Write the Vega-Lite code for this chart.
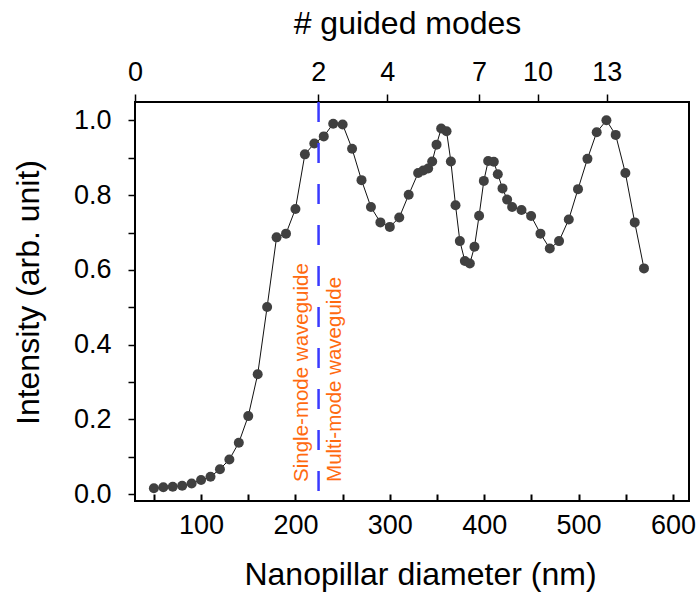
{
  "$schema": "https://vega.github.io/schema/vega-lite/v6.json",
  "width": 554,
  "height": 399,
  "autosize": {"type": "none"},
  "padding": {"left": 135, "top": 102, "right": 8, "bottom": 95},
  "config": {
    "view": {"stroke": "black", "strokeWidth": 2},
    "font": "Liberation Sans",
    "axis": {"grid": false, "domain": false, "labelFont": "Liberation Sans", "titleFont": "Liberation Sans", "labelColor": "black", "titleColor": "black", "tickColor": "black", "titleFontWeight": "normal", "labelFontWeight": "normal", "tickWidth": 1.5}
  },
  "datasets": {
    "series": [
      {"nm": 50, "v": 0.016}, {"nm": 60, "v": 0.019}, {"nm": 70, "v": 0.020}, {"nm": 80, "v": 0.023},
      {"nm": 90, "v": 0.029}, {"nm": 100, "v": 0.038}, {"nm": 110, "v": 0.047}, {"nm": 120, "v": 0.067},
      {"nm": 130, "v": 0.093}, {"nm": 140, "v": 0.138}, {"nm": 150, "v": 0.209}, {"nm": 160, "v": 0.321},
      {"nm": 170, "v": 0.501}, {"nm": 180, "v": 0.687}, {"nm": 190, "v": 0.697}, {"nm": 200, "v": 0.763},
      {"nm": 210, "v": 0.909}, {"nm": 220, "v": 0.938}, {"nm": 230, "v": 0.957}, {"nm": 240, "v": 0.991},
      {"nm": 250, "v": 0.989}, {"nm": 260, "v": 0.924}, {"nm": 270, "v": 0.840}, {"nm": 280, "v": 0.768},
      {"nm": 290, "v": 0.727}, {"nm": 300, "v": 0.715}, {"nm": 310, "v": 0.740}, {"nm": 320, "v": 0.801},
      {"nm": 330, "v": 0.859}, {"nm": 335.4, "v": 0.866}, {"nm": 340.6, "v": 0.871}, {"nm": 344.9, "v": 0.890},
      {"nm": 349.5, "v": 0.935}, {"nm": 354.4, "v": 0.978}, {"nm": 360.1, "v": 0.971}, {"nm": 364.7, "v": 0.890},
      {"nm": 369.6, "v": 0.773}, {"nm": 374.2, "v": 0.677}, {"nm": 379.5, "v": 0.624}, {"nm": 384.8, "v": 0.617},
      {"nm": 389.7, "v": 0.662}, {"nm": 394.6, "v": 0.745}, {"nm": 399.6, "v": 0.838}, {"nm": 404.2, "v": 0.891},
      {"nm": 410.2, "v": 0.889}, {"nm": 414.4, "v": 0.856}, {"nm": 419.4, "v": 0.818}, {"nm": 424.3, "v": 0.788},
      {"nm": 429.6, "v": 0.768}, {"nm": 439.5, "v": 0.760}, {"nm": 449.7, "v": 0.744}, {"nm": 459.6, "v": 0.697},
      {"nm": 469.5, "v": 0.657}, {"nm": 479.3, "v": 0.677}, {"nm": 489.6, "v": 0.735}, {"nm": 499.4, "v": 0.816},
      {"nm": 509.4, "v": 0.897}, {"nm": 519.2, "v": 0.968}, {"nm": 529.5, "v": 1.000}, {"nm": 539.3, "v": 0.961},
      {"nm": 549.6, "v": 0.859}, {"nm": 559.5, "v": 0.727}, {"nm": 569.3, "v": 0.604}
    ],
    "threshold": [{"nm": 224.5}],
    "labels": [
      {"nm": 224.5, "v": 0.033, "label": "Single-mode waveguide", "side": "single"},
      {"nm": 224.5, "v": 0.033, "label": "Multi-mode waveguide", "side": "multi"}
    ]
  },
  "layer": [
    {
      "encoding": {
        "x": {
          "field": "nm", "type": "quantitative",
          "scale": {"domain": [30, 617], "nice": false, "zero": false},
          "axis": {
            "orient": "bottom",
            "title": "Nanopillar diameter (nm)",
            "values": [50, 100, 150, 200, 250, 300, 350, 400, 450, 500, 550, 600],
            "labelExpr": "datum.value % 100 === 0 ? datum.label : ''",
            "offset": -7,
            "tickSize": 7,
            "tickWidth": 2,
            "labelPadding": 11,
            "labelFontSize": 27,
            "titleFontSize": 32,
            "titlePadding": 21,
            "titleX": 285,
            "labelFlush": false
          }
        },
        "y": {
          "field": "v", "type": "quantitative",
          "scale": {"domain": [-0.018, 1.049], "nice": false, "zero": false},
          "axis": {
            "title": "Intensity (arb. unit)",
            "values": [0, 0.1, 0.2, 0.3, 0.4, 0.5, 0.6, 0.7, 0.8, 0.9, 1.0],
            "format": ".1f",
            "labelExpr": "(round(datum.value * 10) % 2 === 0) ? datum.label : ''",
            "tickSize": 7,
            "labelPadding": 17,
            "labelFontSize": 27,
            "titleFontSize": 32,
            "titlePadding": 28,
            "titleY": 190,
            "labelFlush": false
          }
        }
      },
      "layer": [
        {"data": {"name": "series"}, "mark": {"type": "line", "color": "#111111", "strokeWidth": 1}},
        {"data": {"name": "series"}, "mark": {"type": "point", "shape": "circle", "filled": true, "opacity": 1, "size": 100, "color": "#404040"}},
        {
          "data": {"name": "labels"},
          "transform": [{"filter": "datum.side === 'single'"}],
          "mark": {"type": "text", "angle": 270, "align": "left", "baseline": "middle", "dy": -17, "fontSize": 20.5, "color": "#ff6a10", "font": "Liberation Sans"},
          "encoding": {"text": {"field": "label"}}
        },
        {
          "data": {"name": "labels"},
          "transform": [{"filter": "datum.side === 'multi'"}],
          "mark": {"type": "text", "angle": 270, "align": "left", "baseline": "middle", "dy": 16, "fontSize": 20.5, "color": "#ff6a10", "font": "Liberation Sans"},
          "encoding": {"text": {"field": "label"}}
        }
      ]
    },
    {
      "data": {"name": "threshold"},
      "mark": {"type": "rule", "color": "#3a3aff", "strokeWidth": 2.5, "strokeDash": [20, 21]},
      "encoding": {
        "x": {
          "field": "nm", "type": "quantitative",
          "scale": {"domain": [30, 617], "nice": false, "zero": false},
          "axis": {
            "orient": "top",
            "title": "# guided modes",
            "values": [30, 224.2, 297.2, 394.6, 456.5, 529.8],
            "labelExpr": "datum.value < 100 ? '0' : datum.value < 250 ? '2' : datum.value < 350 ? '4' : datum.value < 420 ? '7' : datum.value < 500 ? '10' : '13'",
            "tickSize": 8,
            "labelPadding": 8,
            "labelFontSize": 27,
            "titleFontSize": 32,
            "titlePadding": 18,
            "titleX": 272,
            "labelFlush": false
          }
        }
      }
    }
  ],
  "resolve": {"scale": {"x": "independent"}}
}
